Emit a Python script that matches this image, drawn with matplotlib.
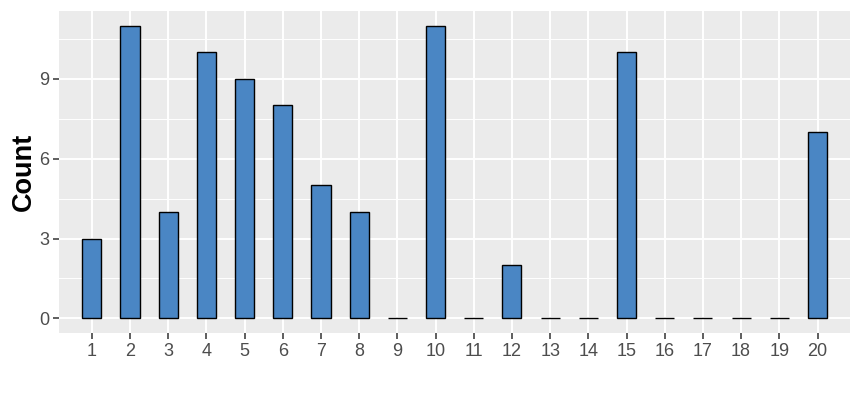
import matplotlib
matplotlib.use("Agg")
import matplotlib.pyplot as plt
from matplotlib.ticker import MultipleLocator

# data
categories = list(range(1, 21))
counts = [3, 11, 4, 10, 9, 8, 5, 4, 0, 11, 0, 2, 0, 0, 10, 0, 0, 0, 0, 7]
y_ticks = [0, 3, 6, 9]

plt.rcParams['font.family'] = ['Liberation Sans', 'DejaVu Sans']

fig = plt.figure(figsize=(8.61, 4.0), dpi=100)
ax = fig.add_axes([0.0689, 0.1675, 0.9183, 0.805])
ax.set_facecolor('#EBEBEB')

ax.bar(categories, counts, width=0.5, color='#4A86C4', edgecolor='black',
       linewidth=1.0, zorder=3)

ax.set_xlim(0.15, 20.85)
ax.set_ylim(-0.55, 11.55)
ax.set_xticks(categories)
ax.set_xticklabels([str(c) for c in categories])
ax.set_yticks(y_ticks)
ax.yaxis.set_minor_locator(MultipleLocator(1.5))

ax.grid(which='major', color='white', linewidth=1.4, zorder=0)
ax.grid(which='minor', axis='y', color='white', linewidth=0.7, zorder=0)
ax.set_axisbelow(True)

for s in ax.spines.values():
    s.set_visible(False)

ax.tick_params(axis='both', which='major', length=4, width=1.1, color='#333333',
               labelsize=13, labelcolor='#4D4D4D', pad=3)
ax.tick_params(axis='y', which='minor', length=0)

ax.set_ylabel('Count', fontsize=19.5, fontweight='bold', color='black')
ax.yaxis.set_label_coords(-0.029, 0.5)

fig.savefig('out.png', dpi=100)
